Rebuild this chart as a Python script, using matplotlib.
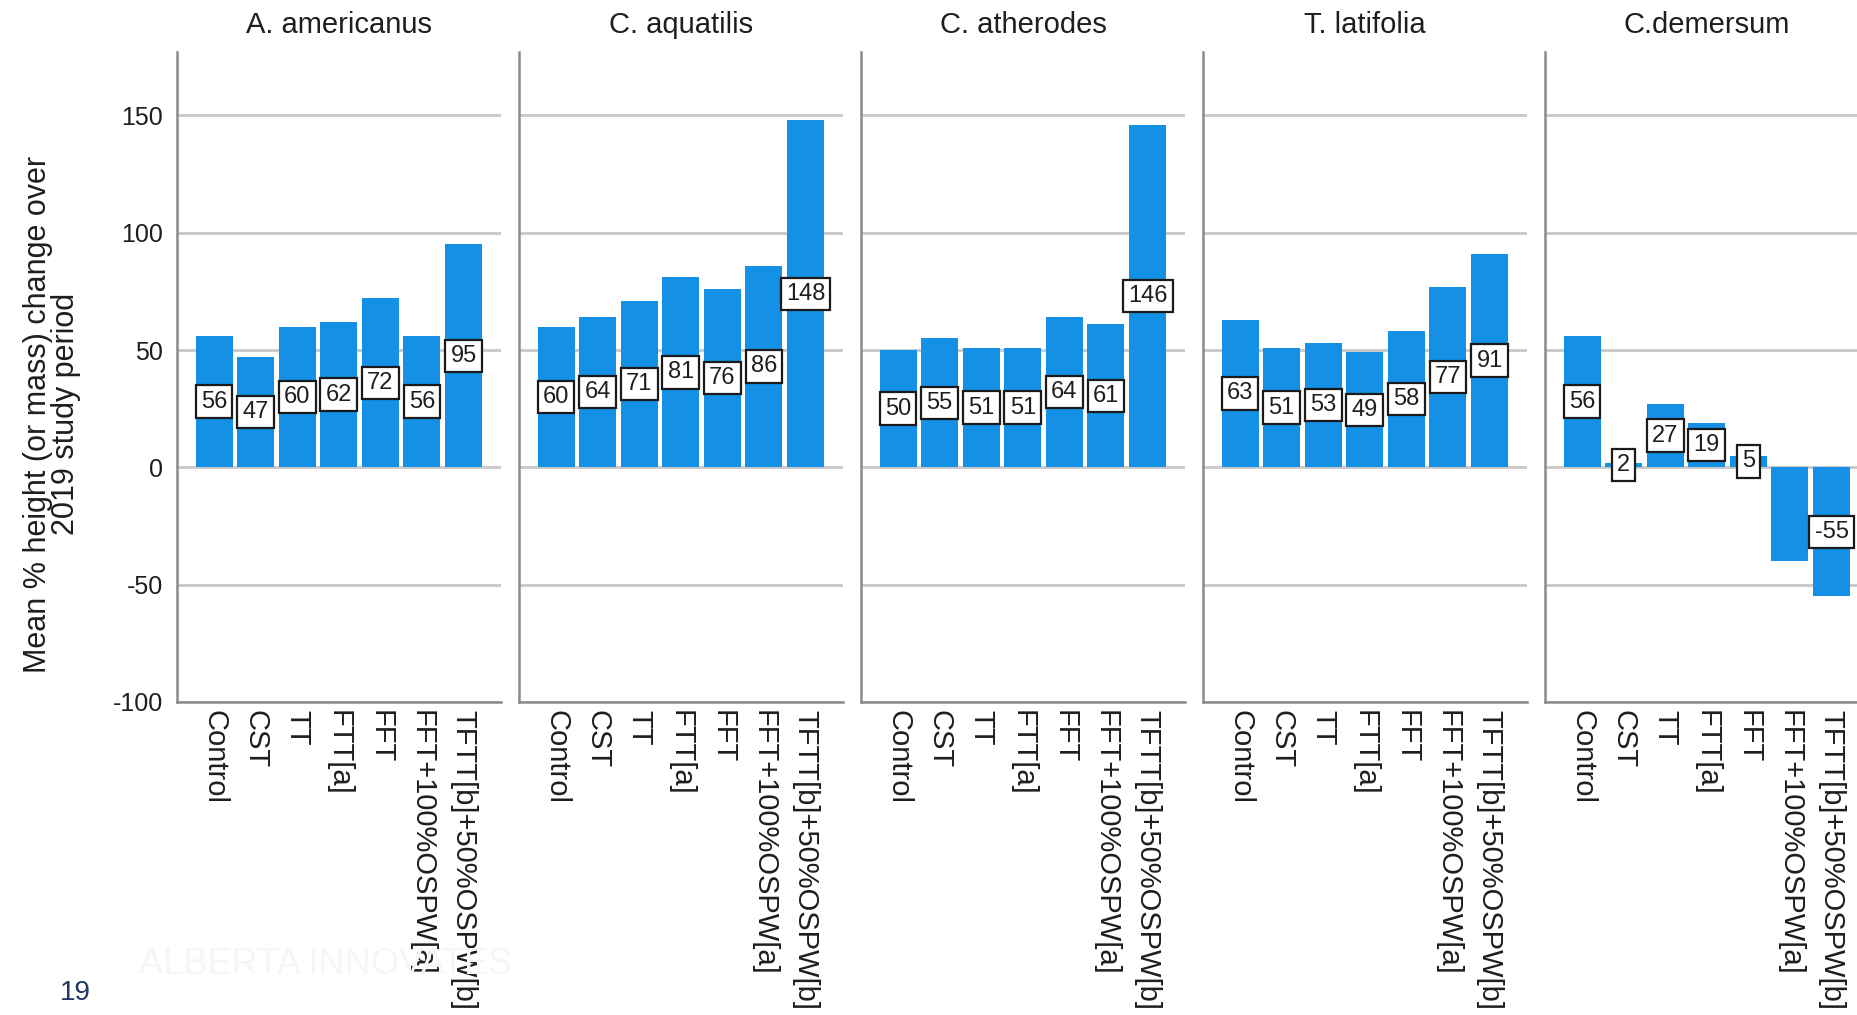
# Mean % height (or mass) change per treatment, one panel per species.
import numpy as np
import matplotlib.pyplot as plt
import matplotlib

matplotlib.rcParams['font.family'] = ['Liberation Sans', 'DejaVu Sans']
matplotlib.rcParams['axes.unicode_minus'] = False

BAR_COLOR = '#1490e6'
GRID_COLOR = '#c8c8c8'
SPINE_COLOR = '#8a8a8a'
TEXT_COLOR = '#1e1e1e'

treatments = ["Control", "CST", "TT", "FTT[a]", "FFT",
              "FFT+100%OSPW[a]", "TFTT[b]+50%OSPW[b]"]
species = ["A. americanus", "C. aquatilis", "C. atherodes",
           "T. latifolia", "C.demersum"]

americanus = [56, 47, 60, 62, 72, 56, 95]
aquatilis = [60, 64, 71, 81, 76, 86, 148]
atherodes = [50, 55, 51, 51, 64, 61, 146]
latifolia = [63, 51, 53, 49, 58, 77, 91]
demersum = [56, 2, 27, 19, 5, -40, -55]

# which bars have no value box in the original (panel index -> bar indices)
hidden_labels = {4: [5]}

y_ticks = [-100, -50, 0, 50, 100, 150]


def main():
    W, H = 1857, 1015
    fig = plt.figure(figsize=(W / 100, H / 100), dpi=100)

    # faint slide watermark behind everything
    fig.text(0.075, 0.05, "ALBERTA INNOVATES", fontsize=26, color='#f6f6f6',
             ha='left', va='center', zorder=0)

    all_vals = [americanus, aquatilis, atherodes, latifolia, demersum]
    x = np.arange(len(treatments))

    # panel geometry in pixels (last panel runs off the right edge, as in the source)
    left0, step, pw = 177, 342, 324
    top, bottom = 52, 702

    for i, (name, vals) in enumerate(zip(species, all_vals)):
        ax = fig.add_axes([(left0 + i * step) / W, (H - bottom) / H,
                           pw / W, (bottom - top) / H])
        ax.patch.set_alpha(0)
        ax.bar(x, vals, width=0.89, color=BAR_COLOR, zorder=2)

        for j, v in enumerate(vals):
            if j in hidden_labels.get(i, []):
                continue
            ax.text(x[j], v / 2, f"{v}", ha='center', va='center',
                    fontsize=17, color=TEXT_COLOR, zorder=4,
                    bbox=dict(boxstyle='square,pad=0.22', fc='white',
                              ec='#1a1a1a', lw=1.6))

        ax.set_xlim(-0.89, 6.9)
        ax.set_ylim(-100, 177)
        ax.set_yticks(y_ticks)
        ax.grid(axis='y', color=GRID_COLOR, linewidth=2)
        ax.set_axisbelow(True)

        for s in ('top', 'right'):
            ax.spines[s].set_visible(False)
        for s in ('left', 'bottom'):
            ax.spines[s].set_color(SPINE_COLOR)
            ax.spines[s].set_linewidth(1.8)

        ax.set_xticks(x)
        ax.set_xticklabels(treatments, rotation=270, fontsize=21,
                           color=TEXT_COLOR, va='top', ha='center')
        ax.tick_params(axis='both', length=0)
        ax.tick_params(axis='x', pad=6)
        ax.tick_params(axis='y', pad=10, labelsize=18, labelcolor=TEXT_COLOR)
        if i > 0:
            ax.tick_params(axis='y', labelleft=False)

        ax.set_title(name, fontsize=21, color=TEXT_COLOR, pad=14)

    fig.text(0.028, 0.592,
             "Mean % height (or mass) change over\n2019 study period",
             rotation=90, ha='center', va='center', multialignment='center',
             fontsize=22, linespacing=0.95, color=TEXT_COLOR)

    fig.text(0.032, 0.022, "19", fontsize=20, color='#1f3864',
             ha='left', va='center')

    fig.savefig("out.png", dpi=100)
    plt.close(fig)


if __name__ == "__main__":
    main()
